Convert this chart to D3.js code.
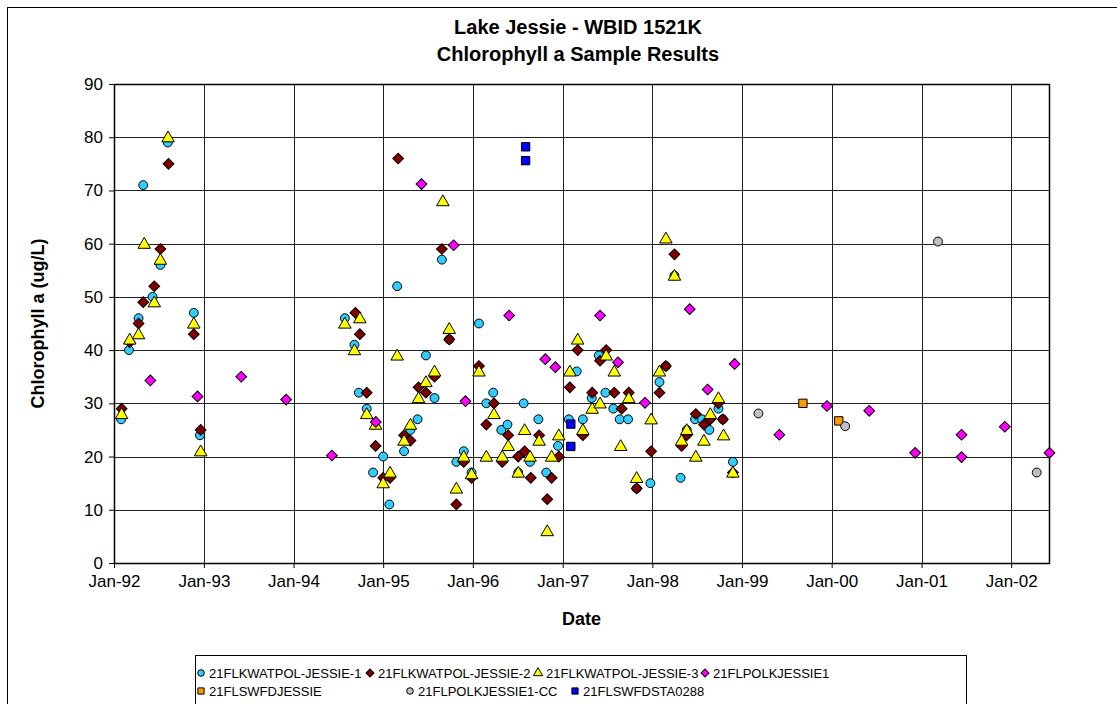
<!DOCTYPE html>
<html>
<head>
<meta charset="utf-8">
<script src="https://cdn.jsdelivr.net/npm/d3@7"></script>
<style>
  body { margin: 0; background: #fff; }
  svg { font-family: Arial, "Liberation Sans", sans-serif; }
</style>
</head>
<body>
<div id="chart"></div>
<script>
var width = 1117,
    height = 704;

// sample dates and values
var jessie1Dates = ["1992-01-30","1992-03-02","1992-04-10","1992-04-29","1992-06-06","1992-07-08","1992-08-07","1992-11-21","1992-12-16",
  "1994-07-29","1994-09-06","1994-09-24","1994-10-26","1994-11-21","1995-01-01","1995-01-26","1995-02-27","1995-03-27","1995-04-22",
  "1995-05-21","1995-06-24","1995-07-29","1995-08-28","1995-09-27","1995-10-26","1995-11-25","1995-12-27","1996-01-26","1996-02-25",
  "1996-03-24","1996-04-26","1996-05-21","1996-07-04","1996-07-26","1996-08-21","1996-09-24","1996-10-26","1996-12-13","1997-01-26",
  "1997-02-27","1997-03-24","1997-04-29","1997-05-28","1997-06-24","1997-07-26","1997-08-21","1997-09-24","1997-10-29","1997-12-24",
  "1998-01-30","1998-02-25","1998-04-01","1998-04-26","1998-05-21","1998-06-24","1998-07-22","1998-08-21","1998-09-27","1998-10-15","1998-11-25"];
var jessie1Values = [27,40,46,71,50,56,79,47,24,
  46,41,32,29,17,20,11,52,21,25,
  27,39,31,57,42,19,21,17,45,30,
  32,25,26,17,30,19,27,17,22,27,
  36,27,31,39,32,29,27,27,14,15,
  34,37,54,16,25,27,27,25,29,27,19];

var jessie2Dates = ["1992-02-01","1992-03-05","1992-04-10","1992-04-29","1992-06-13","1992-07-08","1992-08-10","1992-11-21","1992-12-19",
  "1994-09-10","1994-09-28","1994-10-26","1994-12-01","1995-01-01","1995-01-29","1995-03-03","1995-03-27","1995-04-22","1995-05-25",
  "1995-06-24","1995-07-29","1995-08-28","1995-09-27","1995-10-26","1995-11-25","1995-12-27","1996-01-26","1996-02-25","1996-03-27",
  "1996-04-30","1996-05-24","1996-07-04","1996-07-30","1996-08-24","1996-09-27","1996-10-30","1996-11-17","1996-12-16","1997-01-30",
  "1997-03-03","1997-03-24","1997-05-01","1997-06-02","1997-06-27","1997-07-30","1997-08-29","1997-09-27","1997-10-29","1997-12-27",
  "1998-01-30","1998-02-25","1998-04-01","1998-04-30","1998-05-21","1998-06-27","1998-07-30","1998-08-25","1998-09-27","1998-10-15","1998-11-25"];
var jessie2Values = [29,41.5,45,49,52,59,75,43,25,
  47,43,32,22,16,16,76,24,23,33,
  32,35,59,42,11,19,16,37,26,30,
  19,24,20,21,16,24,12,16,20,33,
  40,24,32,38,40,32,29,32,14,21,
  32,37,58,22,24,28,26,27,30,27,17];

var jessie3Dates = ["1992-02-01","1992-03-05","1992-04-10","1992-05-03","1992-06-13","1992-07-08","1992-08-08","1992-11-21","1992-12-19",
  "1994-07-29","1994-09-06","1994-09-28","1994-10-26","1994-12-01","1995-01-01","1995-01-29","1995-02-27","1995-03-27","1995-04-22",
  "1995-05-25","1995-06-24","1995-07-29","1995-09-01","1995-09-27","1995-10-26","1995-11-25","1995-12-27","1996-01-26","1996-02-25",
  "1996-03-27","1996-04-30","1996-05-24","1996-07-04","1996-07-30","1996-08-21","1996-09-27","1996-10-30","1996-11-17","1996-12-16",
  "1997-01-30","1997-03-03","1997-03-24","1997-05-01","1997-06-02","1997-06-27","1997-07-30","1997-08-25","1997-09-27","1997-10-29",
  "1997-12-27","1998-01-30","1998-02-25","1998-04-01","1998-04-30","1998-05-21","1998-06-27","1998-07-30","1998-08-25","1998-09-27",
  "1998-10-18","1998-11-25"];
var jessie3Values = [28,42,43,60,49,57,80,45,21,
  45,40,46,28,26,15,17,39,23,26,
  31,34,36,68,44,14,20,16.7,36,20,
  28,20,22,17,25,20,23,6,20,24,
  36,42,25,29,30,39,36,22,31,16,
  27,36,61,54,23,25,20,23,28,31,
  24,17];

var polkDates = ["1992-05-28","1992-12-06","1993-06-02","1993-12-02","1994-06-06","1994-12-02","1995-06-06","1995-10-15","1995-12-02",
  "1996-05-28","1996-10-22","1996-12-02","1997-06-02","1997-08-14","1997-12-02","1998-06-02","1998-08-14","1998-12-02",
  "1999-06-02","1999-12-13","2000-06-02","2000-12-06","2001-06-13","2001-06-13","2001-12-06","2002-06-06"];
var polkValues = [34.3,31.3,35,30.7,20.2,26.5,71.2,59.7,30.4,
  46.5,38.3,36.8,46.5,37.7,30.1,47.7,32.6,37.4,
  24.1,29.5,28.6,20.7,24.1,19.9,25.6,20.7];

var swfdDates = ["1999-09-06","2000-01-30"];
var swfdValues = [30,26.7];

var polkCCDates = ["1999-03-09","2000-02-25","2001-03-09","2002-04-15"];
var polkCCValues = [28.1,25.7,60.4,17];

var sta0288Dates = ["1996-08-03","1996-08-03","1997-02-03","1997-02-03"];
var sta0288Values = [78.2,75.6,26.1,21.9];

var seriesNames = ["21FLKWATPOL-JESSIE-1","21FLKWATPOL-JESSIE-2","21FLKWATPOL-JESSIE-3","21FLPOLKJESSIE1",
  "21FLSWFDJESSIE","21FLPOLKJESSIE1-CC","21FLSWFDSTA0288"];
var seriesColors = ["#33ccff","#800000","#ffff00","#ff00ff","#ff9900","#c0c0c0","#0000ff"];
var seriesShapes = ["circle","diamond","triangle","diamond","square","circle","square"];

var yTicks = [0,10,20,30,40,50,60,70,80,90];
var xTickYears = [1992,1993,1994,1995,1996,1997,1998,1999,2000,2001,2002];

var parse = d3.timeParse("%Y-%m-%d");
var series = [
  [jessie1Dates, jessie1Values], [jessie2Dates, jessie2Values], [jessie3Dates, jessie3Values],
  [polkDates, polkValues], [swfdDates, swfdValues], [polkCCDates, polkCCValues], [sta0288Dates, sta0288Values]
].map(function(s, i) {
  return {
    name: seriesNames[i], color: seriesColors[i], shape: seriesShapes[i],
    points: s[0].map(function(d, j) { return {date: parse(d), value: s[1][j]}; })
  };
});

var margin = {top: 84, right: 68, bottom: 141, left: 114},
    plotW = width - margin.left - margin.right,
    plotH = height - margin.top - margin.bottom;

var x = d3.scaleTime()
    .domain([new Date(1992, 0, 1), new Date(2002, 5, 4)])
    .range([0, plotW]);
var y = d3.scaleLinear().domain([0, 90]).range([plotH, 0]);

var svg = d3.select("#chart").append("svg")
    .attr("width", width)
    .attr("height", height);

// chart border (runs off the right and bottom of the picture)
svg.append("rect")
    .attr("x", 7.5).attr("y", 7.5)
    .attr("width", 1146).attr("height", 720)
    .attr("fill", "#fff").attr("stroke", "#000").attr("stroke-width", 1);

svg.append("text")
    .attr("x", 578).attr("y", 34)
    .attr("text-anchor", "middle")
    .style("font-size", "20px").style("font-weight", "bold")
    .text("Lake Jessie - WBID 1521K");
svg.append("text")
    .attr("x", 578).attr("y", 61)
    .attr("text-anchor", "middle")
    .style("font-size", "20px").style("font-weight", "bold")
    .text("Chlorophyll a Sample Results");

var g = svg.append("g")
    .attr("transform", "translate(" + margin.left + "," + margin.top + ")");

// gridlines
g.selectAll(".hgrid").data(yTicks).enter().append("line")
    .attr("x1", 0).attr("x2", plotW)
    .attr("y1", function(d) { return Math.round(y(d)) + 0.5; })
    .attr("y2", function(d) { return Math.round(y(d)) + 0.5; })
    .attr("stroke", "#222").attr("stroke-width", 1);

var xTicks = xTickYears.map(function(yr) { return new Date(yr, 0, 1); });
g.selectAll(".vgrid").data(xTicks).enter().append("line")
    .attr("y1", 0).attr("y2", plotH)
    .attr("x1", function(d) { return Math.round(x(d)) + 0.5; })
    .attr("x2", function(d) { return Math.round(x(d)) + 0.5; })
    .attr("stroke", "#222").attr("stroke-width", 1);

g.append("rect")
    .attr("x", 0.5).attr("y", 0.5)
    .attr("width", plotW).attr("height", plotH)
    .attr("fill", "none").attr("stroke", "#000").attr("stroke-width", 1.5);

// axes
var yAxis = g.append("g")
    .call(d3.axisLeft(y).tickValues(yTicks).tickSize(5).tickPadding(6));
var xAxis = g.append("g")
    .attr("transform", "translate(0," + plotH + ")")
    .call(d3.axisBottom(x).tickValues(xTicks).tickSize(5).tickPadding(7)
      .tickFormat(d3.timeFormat("Jan-%y")));
[yAxis, xAxis].forEach(function(a) {
  a.select(".domain").remove();
  a.selectAll("line").attr("stroke", "#000");
  a.selectAll("text").style("font-size", "17px").style("font-family", "Arial, 'Liberation Sans', sans-serif").attr("fill", "#000");
});

g.append("text")
    .attr("transform", "translate(-70," + plotH / 2 + ")rotate(-90)")
    .attr("text-anchor", "middle")
    .style("font-size", "18px").style("font-weight", "bold")
    .text("Chlorophyll a (ug/L)");
g.append("text")
    .attr("x", plotW / 2).attr("y", plotH + 62)
    .attr("text-anchor", "middle")
    .style("font-size", "18px").style("font-weight", "bold")
    .text("Date");

// Excel-style markers: the diamond is a square turned 45 degrees
var symbolTypes = {
  circle: d3.symbolCircle, diamond: d3.symbolSquare,
  triangle: d3.symbolTriangle, square: d3.symbolSquare
};
var symbolSizes = {circle: 62, diamond: 58, triangle: 68, square: 70};

function symbolPath(shape, scale) {
  return d3.symbol().type(symbolTypes[shape]).size(symbolSizes[shape] * (scale || 1))();
}
function symbolRot(shape) {
  return shape === "diamond" ? "rotate(45)" : "";
}

var pts = g.append("g");
series.forEach(function(s) {
  pts.selectAll(null).data(s.points).enter().append("path")
      .attr("d", symbolPath(s.shape))
      .attr("transform", function(d) {
        var dy = s.shape === "triangle" ? 1 : 0;
        return "translate(" + x(d.date) + "," + (y(d.value) + dy) + ")" + symbolRot(s.shape);
      })
      .attr("fill", s.color)
      .attr("stroke", "#000")
      .attr("stroke-width", 1);
});

// legend
var legend = svg.append("g").attr("transform", "translate(195,655)");
legend.append("rect")
    .attr("x", 0.5).attr("y", 0.5)
    .attr("width", 771).attr("height", 60)
    .attr("fill", "#fff").attr("stroke", "#000");

var legendPos = [[6,18],[175,18],[343,18],[510,18],[6,36],[215,36],[380,36]];
series.forEach(function(s, i) {
  var item = legend.append("g")
      .attr("transform", "translate(" + legendPos[i][0] + "," + legendPos[i][1] + ")" + symbolRot(s.shape));
  item.append("path")
      .attr("d", symbolPath(s.shape, 0.55))
      .attr("fill", s.color).attr("stroke", "#000");
  legend.append("text")
      .attr("x", legendPos[i][0] + 8).attr("y", legendPos[i][1] + 5)
      .style("font-size", "13px")
      .text(s.name);
});
</script>
</body>
</html>
